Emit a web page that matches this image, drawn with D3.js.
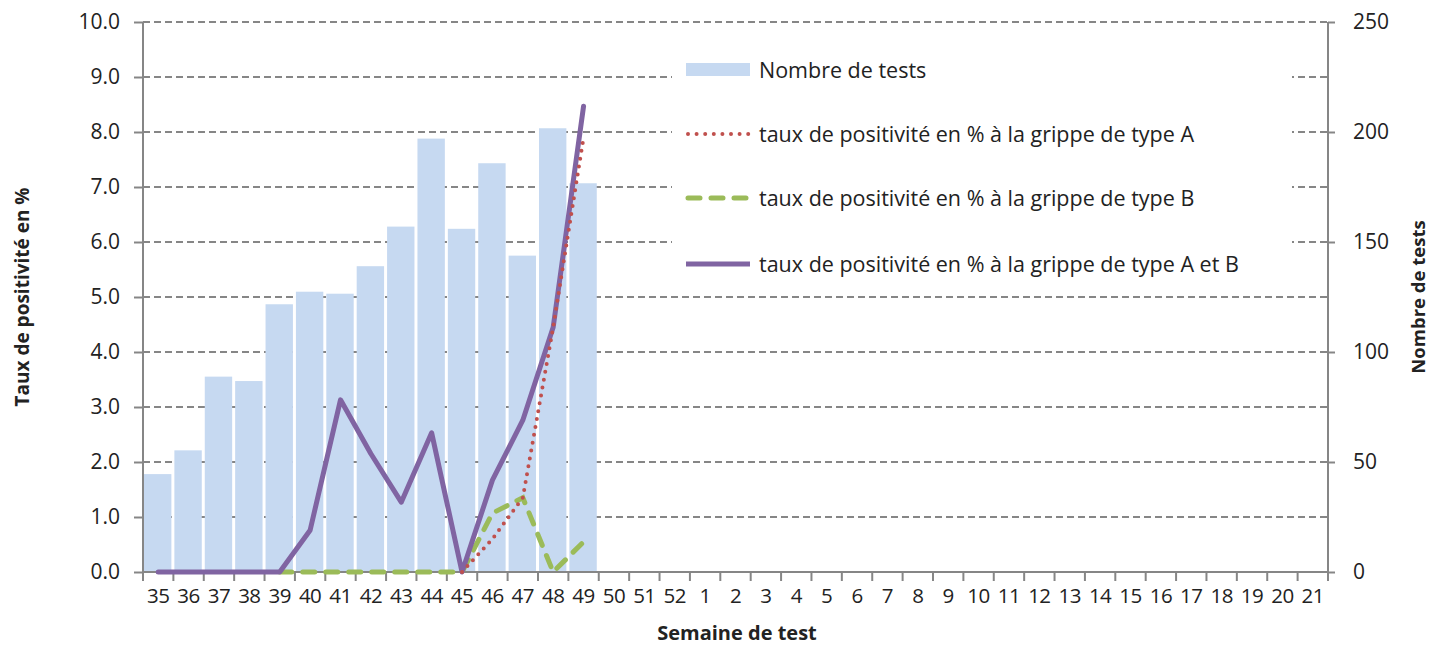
<!DOCTYPE html>
<meta charset="utf-8">
<title>Grippe - taux de positivité</title>
<style>
  body { margin: 0; background: #fff; }
  text { font-family: "Open Sans", "Noto Sans", sans-serif; fill: #222; }
</style>
<body>
<svg id="chart" width="1445" height="649"></svg>
<script src="https://d3js.org/d3.v7.min.js"></script>
<script>

// semaines de test (35..52 puis 1..21)
var weeks = ["35","36","37","38","39","40","41","42","43","44","45","46","47","48","49","50","51","52",
             "1","2","3","4","5","6","7","8","9","10","11","12","13","14","15","16","17","18","19","20","21"];

// nombre de tests (axe droit)
var nbTests = [44.5, 55.3, 88.8, 86.8, 121.7, 127.4, 126.5, 139, 157, 197, 156, 185.8, 143.8, 201.7, 176.7];

// taux de positivité en % (axe gauche), null = pas de point
var tauxA  = [null, null, null, null, null, null, null, null, null, null, 0, 0.6, 1.35, 4.45, 7.9];
var tauxB  = [null, null, null, null, 0, 0, 0, 0, 0, 0, 0, 1.07, 1.35, 0, 0.55];
var tauxAB = [0, 0, 0, 0, 0, 0.76, 3.13, 2.15, 1.27, 2.53, 0, 1.67, 2.76, 4.45, 8.47];

var leftTicks = d3.range(0, 10.01, 1);
var rightTicks = [0, 50, 100, 150, 200, 250];

var margin = {top: 22, right: 117, bottom: 77, left: 143},
    width = 1445 - margin.left - margin.right,
    height = 649 - margin.top - margin.bottom;

var axisColor = "#868686";

var svg = d3.select("#chart");
var g = svg.append("g").attr("transform", "translate(" + margin.left + "," + margin.top + ")");

var x = d3.scaleBand().domain(weeks).range([0, width]).paddingInner(0.08).paddingOuter(0.04);
var xc = function(i) { return x(weeks[i]) + x.bandwidth() / 2; };
var yL = d3.scaleLinear().domain([0, 10]).range([height, 0]);
var yR = d3.scaleLinear().domain([0, 250]).range([height, 0]);

// grille pointillée
g.append("g").selectAll("line")
  .data(leftTicks.filter(function(d) { return d > 0; }))
  .enter().append("line")
    .attr("x1", 0).attr("x2", width)
    .attr("y1", function(d) { return yL(d); })
    .attr("y2", function(d) { return yL(d); })
    .attr("stroke", axisColor)
    .attr("stroke-width", 2)
    .attr("stroke-dasharray", "7,4");

// barres
var step = width / weeks.length;
g.append("g").selectAll("rect")
  .data(nbTests)
  .enter().append("rect")
    .attr("x", function(d, i) { return i * step + 1; })
    .attr("width", step - 3)
    .attr("y", function(d) { return yR(d); })
    .attr("height", function(d) { return height - yR(d); })
    .attr("fill", "#c6d9f1");

// axe gauche
var axL = g.append("g")
  .call(d3.axisLeft(yL).tickValues(leftTicks).tickFormat(d3.format(".1f")).tickSize(9).tickPadding(14));
// axe droit
var axR = g.append("g").attr("transform", "translate(" + width + ",0)")
  .call(d3.axisRight(yR).tickValues(rightTicks).tickSize(7).tickPadding(18));
// axe bas
var axB = g.append("g").attr("transform", "translate(0," + height + ")")
  .call(d3.axisBottom(x).tickSize(0).tickPadding(20));
axB.selectAll(".tick").append("line")
  .attr("x1", -step / 2).attr("x2", -step / 2)
  .attr("y1", 0).attr("y2", 9)
  .attr("stroke", axisColor).attr("stroke-width", 2);
axB.append("line").attr("x1", width).attr("x2", width).attr("y1", 0).attr("y2", 9)
  .attr("stroke", axisColor).attr("stroke-width", 2);

[axL, axR, axB].forEach(function(a) {
  a.select(".domain").attr("stroke", axisColor).attr("stroke-width", 2);
  a.selectAll(".tick line").attr("stroke", axisColor).attr("stroke-width", 2);
  a.selectAll(".tick text").style("font-size", "21px").attr("fill", "#222");
});
axB.selectAll(".tick text").style("font-size", "20.5px").attr("letter-spacing", "-0.5px");
axR.select(".domain").attr("d", "M0,0V" + height);
axL.select(".domain").attr("d", "M0,0V" + height);
axB.select(".domain").attr("d", "M0,0H" + width);
axB.selectAll(".tick text").attr("dy", "0.55em");

// courbes
function lineFor(vals) {
  return d3.line()
    .defined(function(d) { return d != null; })
    .x(function(d, i) { return xc(i); })
    .y(function(d) { return yL(d); })(vals);
}

g.append("path").attr("d", lineFor(tauxB))
  .attr("fill", "none").attr("stroke", "#9bbb59").attr("stroke-width", 5)
  .attr("stroke-linecap", "round").attr("stroke-dasharray", "12,11");
g.append("path").attr("d", lineFor(tauxAB))
  .attr("fill", "none").attr("stroke", "#8064a2").attr("stroke-width", 5)
  .attr("stroke-linejoin", "round").attr("stroke-linecap", "round");
g.append("path").attr("d", lineFor(tauxA))
  .attr("fill", "none").attr("stroke", "#c0504d").attr("stroke-width", 4)
  .attr("stroke-linecap", "round").attr("stroke-dasharray", "0,8");

// légende
var leg = svg.append("g");
leg.append("rect").attr("x", 672).attr("y", 46).attr("width", 620).attr("height", 236).attr("fill", "#fff");
var legItems = [
  {label: "Nombre de tests", type: "bar", y: 70},
  {label: "taux de positivité en % à la grippe de type A", type: "dot", color: "#c0504d", y: 134},
  {label: "taux de positivité en % à la grippe de type B", type: "dash", color: "#9bbb59", y: 198},
  {label: "taux de positivité en % à la grippe de type A et B", type: "solid", color: "#8064a2", y: 264}
];
legItems.forEach(function(it) {
  if (it.type === "bar") {
    leg.append("rect").attr("x", 686).attr("y", it.y - 7).attr("width", 64).attr("height", 13).attr("fill", "#c6d9f1");
  } else {
    var l = leg.append("line").attr("x1", 688).attr("x2", 750).attr("y1", it.y).attr("y2", it.y)
      .attr("stroke", it.color).attr("stroke-linecap", "round");
    if (it.type === "dot") l.attr("stroke-width", 4).attr("stroke-dasharray", "0,8.6");
    if (it.type === "dash") l.attr("stroke-width", 5).attr("stroke-dasharray", "12,11");
    if (it.type === "solid") l.attr("stroke-width", 5).attr("stroke-linecap", "butt").attr("x1", 686);
  }
  leg.append("text").attr("x", 759).attr("y", it.y).attr("dy", "0.35em")
    .style("font-size", "21.5px").text(it.label);
});

// titres d'axes
svg.append("text")
  .attr("transform", "translate(22," + (margin.top + height / 2) + ") rotate(-90)")
  .attr("text-anchor", "middle").attr("dy", "0.35em")
  .style("font-size", "19px").style("font-weight", "bold")
  .text("Taux de positivité en %");
svg.append("text")
  .attr("transform", "translate(1419," + (margin.top + height / 2) + ") rotate(-90)")
  .attr("text-anchor", "middle").attr("dy", "0.35em")
  .style("font-size", "18.5px").style("font-weight", "bold")
  .text("Nombre de tests");
svg.append("text")
  .attr("x", 737).attr("y", 640).attr("text-anchor", "middle")
  .style("font-size", "20px").style("font-weight", "bold")
  .text("Semaine de test");

</script>
</body>
